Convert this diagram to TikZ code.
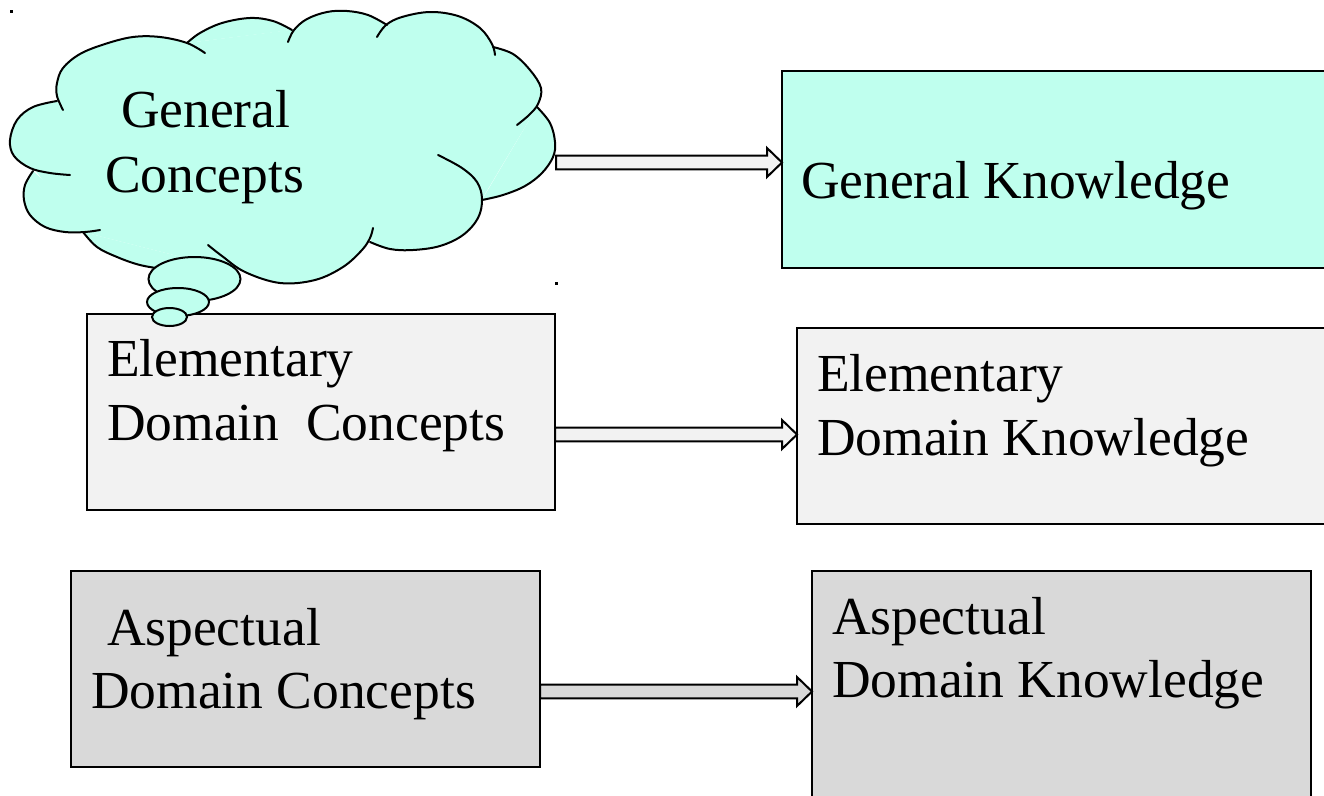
\documentclass[tikz,border=0pt]{standalone}
\usepackage{fontspec}
\setmainfont{Liberation Serif}
\usetikzlibrary{calc}

\definecolor{mint}{RGB}{191,255,238}
\definecolor{palegray}{RGB}{242,242,242}
\definecolor{midgray}{RGB}{217,217,217}

\tikzset{
  box/.style={draw=black, line width=1.6pt, rectangle, inner sep=0pt, outer sep=0pt, anchor=north west},
  txt/.style={anchor=base west, inner sep=0pt, outer sep=0pt, font=\fontsize{53.5}{63}\selectfont},
  fatarrow/.style={draw=black, line width=2pt, line join=miter},
  cloudline/.style={draw=black, line width=2pt, line cap=round, line join=round},
  bubble/.style={draw=black, line width=2pt, fill=mint},
}

% hollow block arrow: fill, source node, target node, height of the axis
\newcommand\blockarrow[4]{%
  \coordinate (ay) at (0,#4);
  \coordinate (tail) at (#2.east |- ay);
  \coordinate (tip) at (#3.west |- ay);
  \draw[fatarrow, fill=#1]
    ($(tail)+(0,-6.8)$) -- ($(tip)+(-15,-6.8)$) -- ($(tip)+(-15,-14.5)$) --
    (tip) -- ($(tip)+(-15,14.5)$) -- ($(tip)+(-15,6.8)$) -- ($(tail)+(0,6.8)$) -- cycle;
}

\begin{document}
\begin{tikzpicture}[x=1pt, y=-1pt]
  \useasboundingbox (0,0) rectangle (1324,795);
  \clip (0,0) rectangle (1324,795);

  % knowledge boxes (right column)
  \node[box, fill=mint,     minimum width=560pt, minimum height=197pt] (gk)  at (782,71)  {};
  \node[box, fill=palegray, minimum width=545pt, minimum height=196pt] (edk) at (797,328) {};
  \node[box, fill=midgray,  minimum width=499pt, minimum height=245pt] (adk) at (812,571) {};

  % concept boxes (left column)
  \node[box, fill=palegray, minimum width=468pt, minimum height=196pt] (edc) at (87,314) {};
  \node[box, fill=midgray,  minimum width=469pt, minimum height=196pt] (adc) at (71,571) {};

  % area taken by the thought cloud
  \node[draw=none, rectangle, inner sep=0pt, outer sep=0pt, anchor=north west,
        minimum width=546pt, minimum height=274pt] (gc) at (10,11) {};

  % arrows from concepts to knowledge
  \blockarrow{palegray}{gc}{gk}{162.5}
  \blockarrow{palegray}{edc}{edk}{434.5}
  \blockarrow{midgray}{adc}{adk}{691.5}

  % thought cloud: body fill
  \fill[mint] (58,100) -- (35,170) -- (83,232) -- (225,268) -- (370,240) -- (482,199)
    -- (537,107) -- (493,47) -- (387,25) -- (290,30) -- (187,43) -- cycle;
  \def\bumpT{(63,110) (57,96) (57,83) (63,68) (80,54) (105,44) (133,37) (160,37) (187,43) (205,53)}
  \def\bumpTT{(187,43) (200,33) (222,23) (250,18) (273,21) (292,30)}
  \def\bumpTTT{(288,42) (294,30) (307,19) (327,12) (347,11) (368,15) (387,25)}
  \def\bumpTR{(377,37) (386,25) (402,17) (430,12) (458,16) (480,28) (492,44) (495,55)}
  \def\bumpRU{(493,47) (513,54) (530,70) (541,88) (538,104) (529,115) (517,125)}
  \def\bumpRL{(482,200) (503,195) (525,186) (542,173) (553,157) (555,142) (550,123) (537,107)}
  \def\bumpBR{(370,242) (390,249) (413,250) (440,246) (463,235) (478,218) (482,199) (477,182) (462,168) (438,155)}
  \def\bumpBM{(208,245) (222,256) (245,272) (280,283) (315,280) (343,267) (362,250) (370,238) (373,228)}
  \def\bumpBL{(83,232) (97,247) (117,257) (140,265) (165,269) (195,271) (225,268)}
  \def\bumpLL{(33,171) (25,185) (24,200) (30,215) (45,227) (65,232) (85,232) (100,230)}
  \def\bumpLU{(57,101) (33,107) (17,120) (10,140) (14,156) (30,168) (50,173) (70,175)}
  \foreach \b in {\bumpT,\bumpTT,\bumpTTT,\bumpTR,\bumpRU,\bumpRL,\bumpBR,\bumpBM,\bumpBL,\bumpLL,\bumpLU}
    \fill[mint] plot[smooth, tension=0.6] coordinates {\b} -- cycle;
  % thought cloud: outline arcs
  \foreach \b in {\bumpT,\bumpTT,\bumpTTT,\bumpTR,\bumpRU,\bumpRL,\bumpBR,\bumpBM,\bumpBL,\bumpLL,\bumpLU}
    \draw[cloudline] plot[smooth, tension=0.6] coordinates {\b};

  % trailing bubbles
  \draw[bubble] (194.5,279) ellipse [x radius=46, y radius=22];
  \draw[bubble] (178,302) ellipse [x radius=31, y radius=14];
  \draw[bubble] (169.5,317) ellipse [x radius=17.5, y radius=9];

  % stray marks
  \fill[black] (10,10) rectangle (13,13);
  \fill[black] (555,282) rectangle (557.5,284.5);

  % texts
  \node[txt] (gc1) at ($(gc.north west)+(111,116)$) {General};
  \node[txt] (gc2) at ($(gc.north west)+(95,181)$) {Concepts};
  \node[txt] (gk1) at ($(gk.north west)+(19,127)$) {General Knowledge};
  \node[txt] (edc1) at ($(edc.north west)+(20,62)$) {Elementary};
  \node[txt] (edc2) at ($(edc.north west)+(20,126)$) {Domain~~Concepts};
  \node[txt] (edk1) at ($(edk.north west)+(20,63)$) {Elementary};
  \node[txt] (edk2) at ($(edk.north west)+(20,127)$) {Domain Knowledge};
  \node[txt] (adc1) at ($(adc.north west)+(36,74)$) {Aspectual};
  \node[txt] (adc2) at ($(adc.north west)+(20,137)$) {Domain Concepts};
  \node[txt] (adk1) at ($(adk.north west)+(20,63)$) {Aspectual};
  \node[txt] (adk2) at ($(adk.north west)+(20,126)$) {Domain Knowledge};
\end{tikzpicture}
\end{document}
